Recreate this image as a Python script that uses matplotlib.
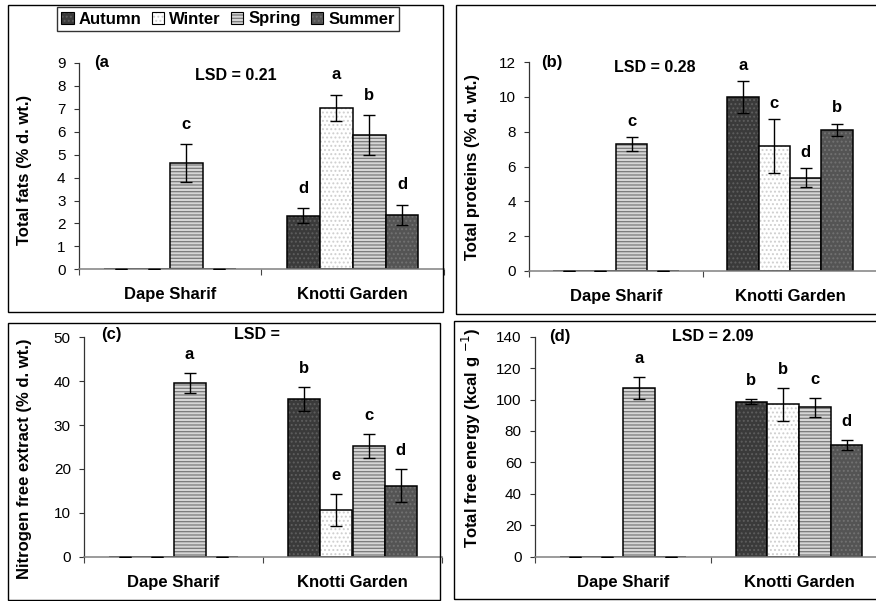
import numpy as np
import matplotlib
matplotlib.use("Agg")
import matplotlib.pyplot as plt
from matplotlib.patches import Patch, Rectangle
from matplotlib.legend_handler import HandlerTuple

plt.rcParams['font.family'] = ['Liberation Sans', 'DejaVu Sans']
plt.rcParams['hatch.linewidth'] = 0.9

W, H = 876, 601

# data: rows = sites, columns = seasons
sites = ['Dape Sharif', 'Knotti Garden']
seasons = ['Autumn', 'Winter', 'Spring', 'Summer']

fats_mean = [[0, 0, 4.63, 0], [2.33, 7.05, 5.85, 2.37]]
fats_err = [[0, 0, 0.82, 0], [0.33, 0.57, 0.88, 0.45]]
fats_sig = [['', '', 'c', ''], ['d', 'a', 'b', 'd']]

proteins_mean = [[0, 0, 7.3, 0], [10.0, 7.15, 5.35, 8.1]]
proteins_err = [[0, 0, 0.4, 0], [0.9, 1.55, 0.55, 0.35]]
proteins_sig = [['', '', 'c', ''], ['a', 'c', 'd', 'b']]

nfe_mean = [[0, 0, 39.6, 0], [35.9, 10.6, 25.2, 16.2]]
nfe_err = [[0, 0, 2.3, 0], [2.7, 3.6, 2.7, 3.7]]
nfe_sig = [['', '', 'a', ''], ['b', 'e', 'c', 'd']]

energy_mean = [[0, 0, 107.6, 0], [98.7, 97.0, 95.0, 71.0]]
energy_err = [[0, 0, 7.0, 0], [1.5, 10.5, 5.9, 3.3]]
energy_sig = [['', '', 'a', ''], ['b', 'b', 'c', 'd']]

# bar looks per season: face, hatch, hatch colour
styles = {
    'Autumn': ('#3a3a3a', '....', '#5e5e5e'),
    'Winter': ('#ffffff', '....', '#cfcfcf'),
    'Spring': ('#d6d6d6', '-----', '#7a7a7a'),
    'Summer': ('#545454', '....', '#727272'),
}


def px(x, y):
    """pixel coords (from top left) to figure fraction"""
    return x / W, 1 - y / H


def draw_panel(fig, rect, mean, err, sig, ymax, ystep, tag, lsd, lsd_xy, tag_xy,
               ylabel, ylab_xy, off):
    x0, ytop, x1, y0 = rect
    l, b = px(x0, y0)
    ax = fig.add_axes([l, b, (x1 - x0) / W, (y0 - ytop) / H])
    ax.patch.set_alpha(0)
    width = 0.18
    xs = np.arange(len(sites))
    for j, s in enumerate(seasons):
        fc, hatch, hc = styles[s]
        pos = xs + (j - 1.5) * width
        vals = [mean[i][j] for i in range(len(sites))]
        errs = [err[i][j] for i in range(len(sites))]
        ax.bar(pos, vals, width, color=fc, hatch=hatch, edgecolor=hc, linewidth=0)
        ax.bar(pos, vals, width, fill=False, edgecolor='black', linewidth=1.1)
        ax.errorbar(pos, vals, yerr=errs, fmt='none', ecolor='black',
                    elinewidth=1.0, capsize=4, capthick=1.0, zorder=3)
        for i in range(len(sites)):
            if sig[i][j]:
                ax.annotate(sig[i][j], (pos[i], vals[i] + errs[i]),
                            xytext=(0, off), textcoords='offset points',
                            ha='center', va='bottom', fontsize=12,
                            fontweight='bold')
    ax.set_xlim(-0.5, 1.5)
    ax.set_ylim(0, ymax)
    ax.set_yticks(np.arange(0, ymax + 0.01, ystep))
    ax.set_xticks(xs)
    ax.set_xticklabels(sites, fontsize=12, fontweight='bold')
    ax.set_xticks([-0.5, 0.5, 1.5], minor=True)
    ax.tick_params(axis='x', which='major', length=0, pad=13)
    ax.tick_params(axis='x', which='minor', length=4, width=0.8, direction='out',
                   color='#444444')
    ax.tick_params(axis='y', length=3.5, width=0.8, pad=6, labelsize=11,
                   color='#333333')
    for side in ['top', 'right']:
        ax.spines[side].set_visible(False)
    ax.spines['left'].set_color('#333333')
    ax.spines['bottom'].set_color('#808080')
    ax.spines['left'].set_linewidth(0.9)
    ax.spines['bottom'].set_linewidth(1.1)

    fig.text(*px(*tag_xy), tag, ha='left', va='center', fontsize=12,
             fontweight='bold')
    fig.text(*px(*lsd_xy), lsd, ha='center', va='center', fontsize=11.5,
             fontweight='bold')
    fig.text(*px(*ylab_xy), ylabel, rotation=90, ha='center', va='center',
             fontsize=12, fontweight='bold')
    return ax


fig = plt.figure(figsize=(W / 100, H / 100), dpi=100)

# panel frames
for (fx0, fy0, fx1, fy1) in [(8, 5, 443, 312), (456, 5, 890, 314),
                             (8, 323, 440, 600), (454, 321, 890, 599)]:
    l, b = px(fx0, fy1)
    fig.patches.append(Rectangle((l, b), (fx1 - fx0) / W, (fy1 - fy0) / H,
                                 transform=fig.transFigure, fill=False,
                                 edgecolor='black', linewidth=1.0))

draw_panel(fig, (78.7, 63, 444, 269.3), fats_mean, fats_err, fats_sig, 9, 1,
           '(a', 'LSD = 0.21', (236, 75), (94, 63),
           'Total fats (% d. wt.)', (25, 170), 9)
draw_panel(fig, (529, 62, 877, 271), proteins_mean, proteins_err, proteins_sig,
           12, 2, '(b)', 'LSD = 0.28', (655, 68), (541, 63),
           'Total proteins (% d. wt.)', (472, 167), 6)
draw_panel(fig, (84, 337.3, 442, 556.7), nfe_mean, nfe_err, nfe_sig, 50, 10,
           '(c)', 'LSD =', (257, 335), (101, 335),
           'Nitrogen free extract (% d. wt.)', (25, 459), 8)
draw_panel(fig, (535, 336.7, 887, 556.7), energy_mean, energy_err, energy_sig,
           140, 20, '(d)', 'LSD = 2.09', (713, 337), (549, 337),
           'Total free energy (kcal g $^{-1}$)', (471, 438), 8)

# legend on top of panel (a)
handles = []
for s in seasons:
    fc, hatch, hc = styles[s]
    handles.append((Patch(facecolor=fc, hatch=hatch, edgecolor=hc, linewidth=0),
                    Patch(fill=False, edgecolor='black', linewidth=0.8)))
leg = fig.legend(handles, seasons,
                 handler_map={tuple: HandlerTuple(ndivide=1, pad=0)},
                 loc='center', bbox_to_anchor=px(228, 19), ncol=4,
                 prop={'weight': 'bold', 'size': 12}, frameon=True,
                 fancybox=False, edgecolor='black', handlelength=0.75,
                 handleheight=0.75, handletextpad=0.3, columnspacing=0.6,
                 borderpad=0.25, borderaxespad=0)
leg.get_frame().set_linewidth(1.0)

fig.savefig('out.png', dpi=100)
